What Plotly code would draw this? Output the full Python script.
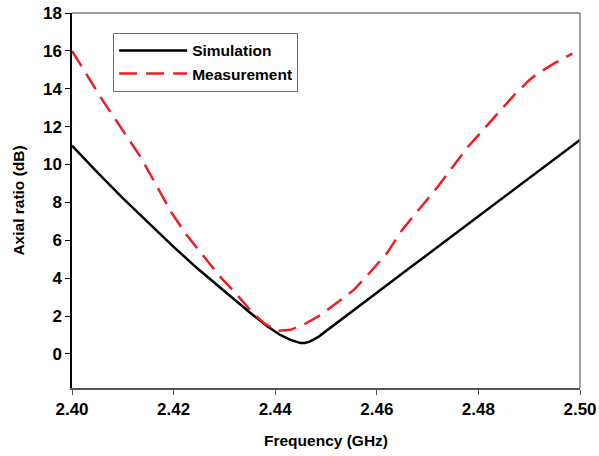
import plotly.graph_objects as go

sim_freq = [2.400, 2.405, 2.410, 2.415, 2.420, 2.425, 2.430, 2.435, 2.4385, 2.441,
            2.443, 2.4442, 2.445, 2.4458, 2.4468, 2.4485, 2.452, 2.455, 2.460, 2.465,
            2.470, 2.475, 2.480, 2.485, 2.490, 2.495, 2.500]
sim_ar = [11.0, 9.58, 8.22, 6.91, 5.65, 4.44, 3.29, 2.19, 1.45, 1.0,
          0.74, 0.62, 0.57, 0.58, 0.65, 0.9, 1.62, 2.23, 3.23, 4.24,
          5.25, 6.26, 7.27, 8.27, 9.28, 10.3, 11.3]

meas_freq = [2.400, 2.403, 2.406, 2.410, 2.4135, 2.4165, 2.4195, 2.4225, 2.426, 2.429,
             2.4325, 2.4355, 2.438, 2.4405, 2.443, 2.4455, 2.449, 2.452, 2.4555, 2.4585,
             2.462, 2.465, 2.4685, 2.472, 2.475, 2.478, 2.4815, 2.485, 2.4868, 2.4885,
             2.490, 2.4915, 2.495, 2.4985]
meas_ar = [16.0, 14.7, 13.4, 11.8, 10.4, 8.95, 7.5, 6.3, 5.12, 4.12,
           3.12, 2.18, 1.58, 1.22, 1.27, 1.53, 2.06, 2.68, 3.38, 4.26,
           5.32, 6.55, 7.7, 8.83, 9.9, 10.95, 12.0, 13.06, 13.6, 14.05,
           14.45, 14.78, 15.35, 15.85]

x_ticks = [2.40, 2.42, 2.44, 2.46, 2.48, 2.50]
x_tick_labels = ["2.40", "2.42", "2.44", "2.46", "2.48", "2.50"]
y_ticks = [0, 2, 4, 6, 8, 10, 12, 14, 16, 18]

FONT = "Liberation Sans, Arial, sans-serif"

fig = go.Figure()
fig.add_trace(go.Scatter(x=sim_freq, y=sim_ar, mode="lines", name="<b>Simulation</b>",
                         line=dict(color="black", width=2.5)))
fig.add_trace(go.Scatter(x=meas_freq, y=meas_ar, mode="lines", name="<b>Measurement</b>",
                         line=dict(color="#ee1c25", width=2.5, dash="18px,9px")))

fig.update_layout(
    width=599, height=456,
    margin=dict(l=72, r=19, t=13, b=68, autoexpand=False),
    paper_bgcolor="white", plot_bgcolor="white",
    font=dict(family=FONT, color="black"),
    showlegend=True,
    legend=dict(x=0.081, y=0.947, xanchor="left", yanchor="top",
                bgcolor="white", bordercolor="#707070", borderwidth=1,
                font=dict(family=FONT, size=15.5, color="black"),
                itemwidth=68, tracegroupgap=0),
    xaxis=dict(range=[2.40, 2.50], tickvals=x_ticks,
               ticktext=[f"<b>{t}</b>" for t in x_tick_labels], automargin=False,
               showgrid=False, zeroline=False, showline=True, linecolor="#555555", linewidth=1.5,
               ticks="outside", ticklen=5, tickcolor="#555555",
               tickfont=dict(family=FONT, size=17, color="black"),
               title=dict(text="<b>Frequency (GHz)</b>", font=dict(family=FONT, size=15.5), standoff=17)),
    yaxis=dict(range=[-1.8, 18], tickvals=y_ticks, automargin=False,
               ticktext=[f"<b>{v}</b>" for v in y_ticks],
               showgrid=False, zeroline=False, showline=True, linecolor="black", linewidth=1.5,
               ticks="outside", ticklen=5, tickcolor="black",
               tickfont=dict(family=FONT, size=17, color="black"),
               title=dict(text="<b>Axial ratio (dB)</b>", font=dict(family=FONT, size=15.5), standoff=15)),
)

fig.add_shape(type="line", xref="paper", yref="paper", x0=0, x1=1, y0=1, y1=1,
              line=dict(color="#808080", width=1.5))
fig.add_shape(type="line", xref="paper", yref="paper", x0=1, x1=1, y0=0, y1=1,
              line=dict(color="#808080", width=1.5))

fig.write_html("out.html")
